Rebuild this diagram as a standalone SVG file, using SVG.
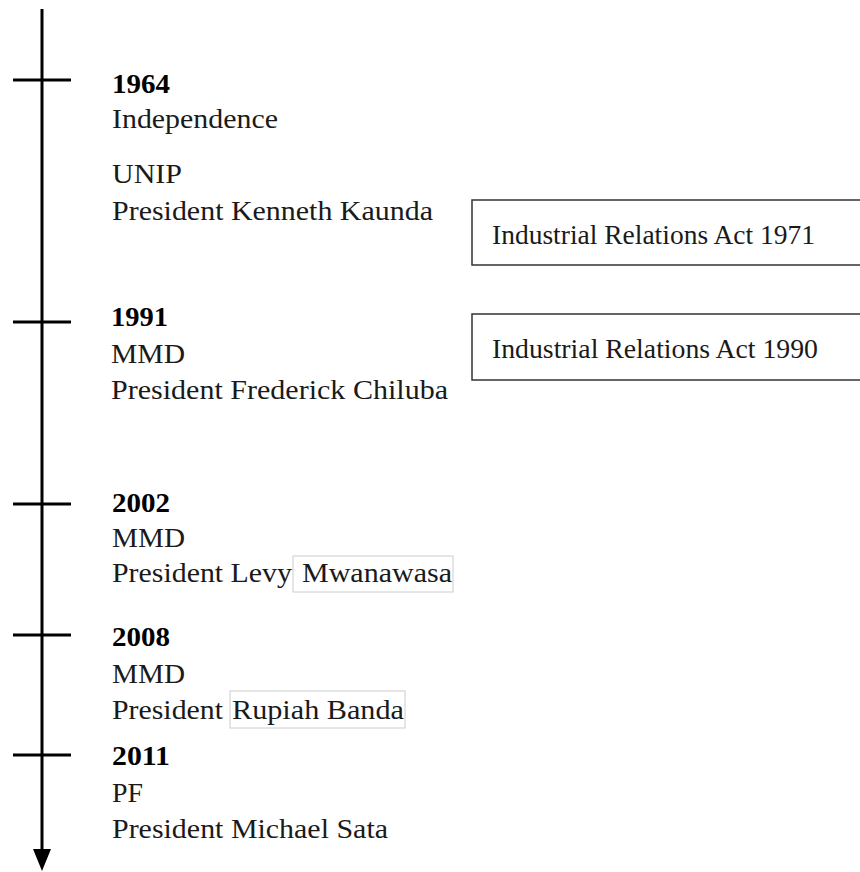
<svg xmlns="http://www.w3.org/2000/svg" width="860" height="872" viewBox="0 0 860 872">
<style>
text{font-family:"Liberation Serif","Times New Roman",serif;font-size:28px;fill:#1a1a1a}
.y{font-weight:bold;fill:#000}
.ax{stroke:#000;stroke-width:3;fill:none}
.box{fill:#fff;stroke:#333;stroke-width:1.5}
.hl{fill:#fff;stroke:#ccc;stroke-width:1}
</style>
<g id="connectors">
<line class="ax" x1="42" y1="9" x2="42" y2="852"/>
<path d="M33,849 L51,849 L42,871 Z" fill="#000"/>
<line class="ax" x1="13" y1="80" x2="71" y2="80"/>
<line class="ax" x1="13" y1="322" x2="71" y2="322"/>
<line class="ax" x1="13" y1="504" x2="71" y2="504"/>
<line class="ax" x1="13" y1="635" x2="71" y2="635"/>
<line class="ax" x1="13" y1="755" x2="71" y2="755"/>
</g>
<g id="e1964">
<text class="y" x="112" y="93" textLength="58" lengthAdjust="spacingAndGlyphs">1964</text>
<text x="112" y="128" textLength="166" lengthAdjust="spacingAndGlyphs">Independence</text>
<text x="112" y="183" textLength="70" lengthAdjust="spacingAndGlyphs">UNIP</text>
<text x="112" y="220" textLength="321" lengthAdjust="spacingAndGlyphs">President Kenneth Kaunda</text>
</g>
<g id="act1971">
<rect class="box" x="472" y="200" width="400" height="65"/>
<text x="492" y="244" textLength="323" lengthAdjust="spacingAndGlyphs">Industrial Relations Act 1971</text>
</g>
<g id="e1991">
<text class="y" x="111" y="326" textLength="57" lengthAdjust="spacingAndGlyphs">1991</text>
<text x="111" y="363" textLength="74" lengthAdjust="spacingAndGlyphs">MMD</text>
<text x="111" y="399" textLength="337" lengthAdjust="spacingAndGlyphs">President Frederick Chiluba</text>
</g>
<g id="act1990">
<rect class="box" x="472" y="314" width="400" height="66"/>
<text x="492" y="358" textLength="326" lengthAdjust="spacingAndGlyphs">Industrial Relations Act 1990</text>
</g>
<g id="e2002">
<text class="y" x="112" y="512" textLength="58" lengthAdjust="spacingAndGlyphs">2002</text>
<text x="112" y="547" textLength="73" lengthAdjust="spacingAndGlyphs">MMD</text>
<rect class="hl" x="293" y="556" width="160" height="36"/>
<text x="112" y="582" textLength="180" lengthAdjust="spacingAndGlyphs">President Levy</text>
<text x="302" y="582" textLength="150" lengthAdjust="spacingAndGlyphs">Mwanawasa</text>
</g>
<g id="e2008">
<text class="y" x="112" y="646" textLength="58" lengthAdjust="spacingAndGlyphs">2008</text>
<text x="112" y="683" textLength="73" lengthAdjust="spacingAndGlyphs">MMD</text>
<rect class="hl" x="230" y="691" width="175" height="37"/>
<text x="112" y="719" textLength="111" lengthAdjust="spacingAndGlyphs">President</text>
<text x="232" y="719" textLength="172" lengthAdjust="spacingAndGlyphs">Rupiah Banda</text>
</g>
<g id="e2011">
<text class="y" x="112" y="765" textLength="58" lengthAdjust="spacingAndGlyphs">2011</text>
<text x="112" y="802" textLength="31" lengthAdjust="spacingAndGlyphs">PF</text>
<text x="112" y="838" textLength="276" lengthAdjust="spacingAndGlyphs">President Michael Sata</text>
</g>
</svg>
